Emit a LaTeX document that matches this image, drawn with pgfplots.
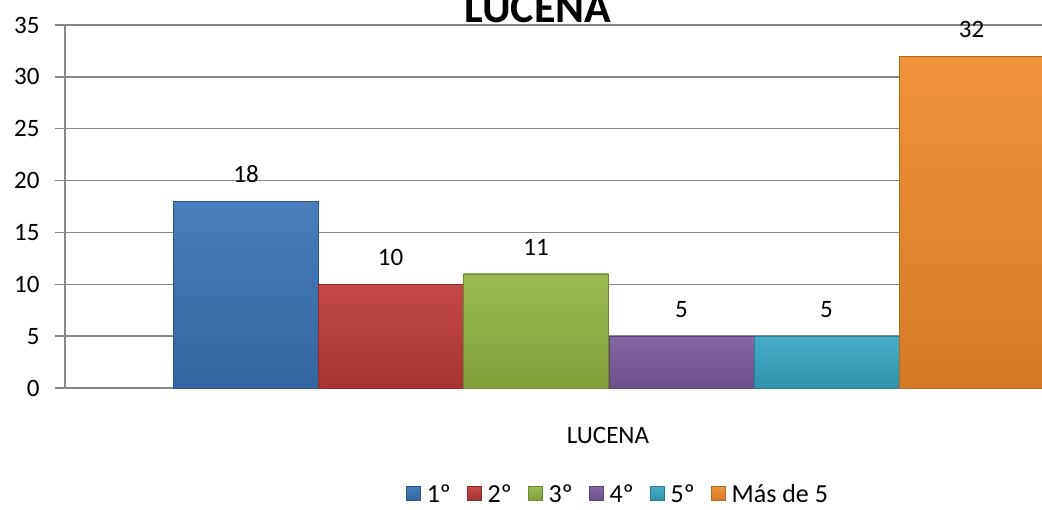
\documentclass[border=0pt]{standalone}
\usepackage{fontspec}
\setmainfont{Carlito}
\usepackage{pgfplots}
\pgfplotsset{compat=1.18}

\definecolor{cA}{HTML}{3A72B7}
\definecolor{cB}{HTML}{BE3A37}
\definecolor{cC}{HTML}{93B441}
\definecolor{cD}{HTML}{7A5B9E}
\definecolor{cE}{HTML}{37A6C2}
\definecolor{cF}{HTML}{F08A2C}
\definecolor{gridc}{HTML}{888888}

\pgfplotsset{
  barsty/.style={top color=#1!92!white, bottom color=#1!88!black, draw=#1!75!black, line width=0.8pt},
}

\begin{document}
\begin{tikzpicture}[x=1pt,y=1pt]
\useasboundingbox (0,0) rectangle (1042,509);
\begin{axis}[
  at={(65pt,121pt)}, anchor=south west,
  scale only axis, width=977pt, height=363pt,
  xmin=65, xmax=1042, ymin=0, ymax=35,
  ybar, bar width=145, bar shift=0pt,
  axis x line=bottom, axis y line=left,
  axis line style={-, gridc, line width=1.3pt},
  ytick={0,5,...,35},
  ymajorgrids, grid style={gridc, line width=1.3pt},
  tick style={gridc, line width=1.3pt},
  major tick length=10pt,
  ytick pos=left, tick align=outside,
  yticklabel style={xshift=-12pt},
  xtick={608}, xticklabels={LUCENA},
  major x tick style={draw=none},
  extra x ticks={65}, extra x tick labels={},
  extra x tick style={major tick length=8pt, tick style={gridc, line width=1.3pt}},
  xticklabel style={yshift=-26pt},
  ticklabel style={font=\fontsize{25}{25}\selectfont},
  /pgf/number format/assume math mode=true,
  nodes near coords,
  nodes near coords style={font=\fontsize{25}{25}\selectfont, black, yshift=15pt},
  legend columns=6,
  legend style={at={(0.566,-0.292)}, anchor=center, draw=none,
    font=\fontsize{26}{26}\selectfont,
    /tikz/every odd column/.style={column sep=4pt},
    /tikz/every even column/.style={column sep=14pt}},
  legend cell align=left,
  legend image code/.code={\draw[#1] (0pt,-6pt) rectangle (14pt,8pt);},
  clip=false,
]
\addplot[barsty=cA] coordinates {(246,18)};
\addlegendentry{1º}
\addplot[barsty=cB] coordinates {(390.5,10)};
\addlegendentry{2º}
\addplot[barsty=cC] coordinates {(536,11)};
\addlegendentry{3º}
\addplot[barsty=cD] coordinates {(681.5,5)};
\addlegendentry{4º}
\addplot[barsty=cE] coordinates {(826.5,5)};
\addlegendentry{5º}
\addplot[barsty=cF] coordinates {(971.5,32)};
\addlegendentry{Más de 5}
\end{axis}
\node[anchor=base, inner sep=0pt, font=\bfseries\fontsize{44}{44}\selectfont] at (538,486) {LUCENA};
\end{tikzpicture}
\end{document}
